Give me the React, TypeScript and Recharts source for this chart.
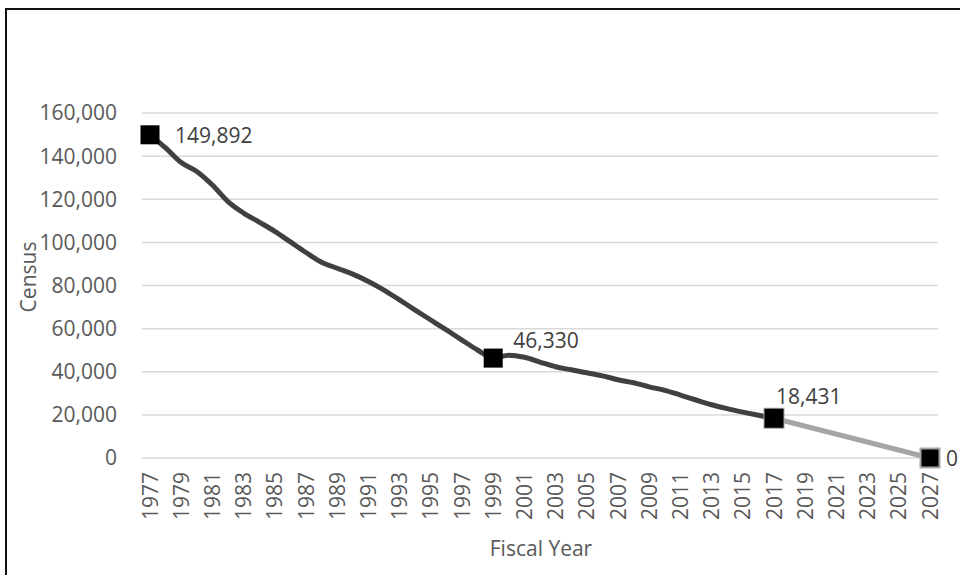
import React from 'react';
import { LineChart, Line, XAxis, YAxis, CartesianGrid, Label } from 'recharts';

const fiscalYears = [
  1977, 1978, 1979, 1980, 1981, 1982, 1983, 1984, 1985, 1986,
  1987, 1988, 1989, 1990, 1991, 1992, 1993, 1994, 1995, 1996,
  1997, 1998, 1999, 2000, 2001, 2002, 2003, 2004, 2005, 2006,
  2007, 2008, 2009, 2010, 2011, 2012, 2013, 2014, 2015, 2016,
  2017, 2018, 2019, 2020, 2021, 2022, 2023, 2024, 2025, 2026, 2027,
];

// Actual census, FY1977 - FY2017
const actualCensus = [
  149892, 143800, 137000, 132900, 126600, 118900, 113600, 109400, 105100, 100200,
  95300, 90800, 88000, 85300, 81900, 77900, 73300, 68600, 64000, 59400,
  54700, 50100, 46330, 47700, 46700, 44500, 42300, 40900, 39500, 38100,
  36300, 34900, 33000, 31400, 29200, 26900, 24700, 22900, 21300, 19800,
  18431,
];

// Projection endpoints
const projectionYears = [2017, 2027];
const projectionCensus = [18431, 0];

const actualLabeledYears = [1977, 1999, 2017];
const projectionLabeledYears = [2027];
const markerYears = [1977, 1999, 2017, 2027];
const yTicks = [0, 20000, 40000, 60000, 80000, 100000, 120000, 140000, 160000];

const data = fiscalYears.map((yr, i) => {
  const pi = projectionYears.indexOf(yr);
  return {
    year: String(yr),
    actual: i < actualCensus.length ? actualCensus[i] : null,
    projected: pi >= 0 ? projectionCensus[pi] : null,
  };
});

const FONT = '"Open Sans", sans-serif';
const TEXT = '#595959';
const fmt = (v: number) => v.toLocaleString('en-US');

const XTick = (props: any) => {
  const { x, y, payload } = props;
  return (
    <text
      x={x}
      y={y}
      transform={`rotate(-90, ${x}, ${y})`}
      textAnchor="end"
      dy="0.36em"
      fill={TEXT}
      fontSize={21}
      fontFamily={FONT}
    >
      {payload.value}
    </text>
  );
};

const makeDot = (fill: string, stroke: string) => (props: any) => {
  const { cx, cy, payload, index } = props;
  if (cx == null || cy == null || !markerYears.includes(Number(payload.year))) {
    return <g key={`d-${index}`} />;
  }
  const s = 19;
  return (
    <rect
      key={`d-${index}`}
      x={cx - s / 2}
      y={cy - s / 2}
      width={s}
      height={s}
      fill={fill}
      stroke={stroke}
      strokeWidth={stroke === 'none' ? 0 : 2}
    />
  );
};

const makeLabel = (years: number[]) => (props: any) => {
  const { x, y, value, index } = props;
  const yr = fiscalYears[index];
  if (x == null || y == null || value == null || !years.includes(yr)) {
    return <g key={`l-${index}`} />;
  }
  let tx = x + 25;
  let ty = y;
  if (yr === 1999) {
    tx = x + 20;
    ty = y - 18;
  } else if (yr === 2017) {
    tx = x + 2;
    ty = y - 22;
  } else if (yr === 2027) {
    tx = x + 16;
    ty = y;
  }
  return (
    <text
      key={`l-${index}`}
      x={tx}
      y={ty}
      textAnchor="start"
      dominantBaseline="central"
      fill="#404040"
      fontSize={21}
      fontFamily={FONT}
    >
      {fmt(value)}
    </text>
  );
};

export default function App() {
  return (
    <div style={{ position: 'absolute', left: 0, top: 0, width: 960, height: 575, overflow: 'hidden', background: '#fff' }}>
      <div
        style={{
          position: 'absolute',
          left: 5,
          top: 8,
          width: 1100,
          height: 800,
          border: '2px solid #111',
          boxSizing: 'border-box',
        }}
      />
      <div style={{ position: 'absolute', left: 0, top: 0 }}>
        <LineChart
          width={960}
          height={575}
          data={data}
          margin={{ top: 113, right: 22, bottom: 17, left: 0 }}
        >
          <CartesianGrid horizontal vertical={false} stroke="#d9d9d9" strokeWidth={1.5} />
          <XAxis
            dataKey="year"
            interval={1}
            tickLine={false}
            axisLine={false}
            tickSize={0}
            tickMargin={14}
            height={100}
            padding={{ left: 8, right: 8 }}
            tick={<XTick />}
          >
            <Label
              content={() => (
                <text
                  x={541}
                  y={548}
                  textAnchor="middle"
                  dominantBaseline="central"
                  fill={TEXT}
                  fontSize={21}
                  fontFamily={FONT}
                >
                  Fiscal Year
                </text>
              )}
            />
          </XAxis>
          <YAxis
            width={142}
            domain={[0, 160000]}
            ticks={yTicks}
            tickFormatter={fmt}
            tickLine={false}
            axisLine={false}
            tickSize={0}
            tickMargin={25}
            tick={{ fill: TEXT, fontSize: 21, fontFamily: FONT }}
          >
            <Label
              content={() => (
                <text
                  x={28}
                  y={277}
                  transform="rotate(-90, 28, 277)"
                  textAnchor="middle"
                  dominantBaseline="central"
                  fill={TEXT}
                  fontSize={21}
                  fontFamily={FONT}
                >
                  Census
                </text>
              )}
            />
          </YAxis>
          <Line
            dataKey="projected"
            type="linear"
            stroke="#a5a5a5"
            strokeWidth={5}
            connectNulls
            isAnimationActive={false}
            dot={makeDot('#000', '#a5a5a5')}
            activeDot={false}
            label={makeLabel(projectionLabeledYears)}
          />
          <Line
            dataKey="actual"
            type="monotone"
            stroke="#404040"
            strokeWidth={5}
            isAnimationActive={false}
            dot={makeDot('#000', 'none')}
            activeDot={false}
            label={makeLabel(actualLabeledYears)}
          />
        </LineChart>
      </div>
    </div>
  );
}
